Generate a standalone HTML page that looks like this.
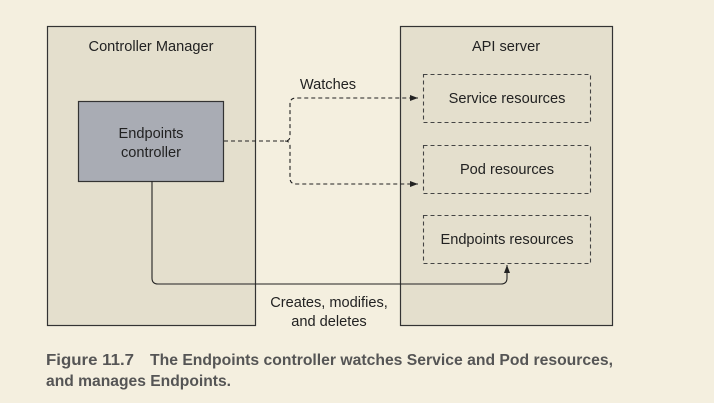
<!DOCTYPE html>
<html><head><style>
body{margin:0;background:#f4efdf;}
svg{display:block;}
text{font-family:"Liberation Sans",sans-serif;fill:#222;}
.cap{font-family:"Liberation Sans Narrow","Liberation Sans",sans-serif;font-weight:bold;fill:#555;font-size:16px;}
</style></head><body>
<svg width="714" height="403" viewBox="0 0 714 403">
<defs><marker id="a" markerWidth="8" markerHeight="6" refX="8" refY="3" orient="auto" markerUnits="userSpaceOnUse"><path d="M0,0L8,3L0,6z" fill="#222"/></marker></defs>
<rect x="47.5" y="26.5" width="208" height="299" fill="#e4dfcd" stroke="#333" stroke-width="1.2"/>
<rect x="400.5" y="26.5" width="212" height="299" fill="#e4dfcd" stroke="#333" stroke-width="1.2"/>
<text x="151" y="51" font-size="14.6" text-anchor="middle">Controller Manager</text>
<text x="506" y="51" font-size="14.6" text-anchor="middle">API server</text>
<rect x="78.5" y="101.5" width="145" height="80" fill="#a9acb4" stroke="#333" stroke-width="1.2"/>
<text x="151" y="138" font-size="14.6" text-anchor="middle">Endpoints</text>
<text x="151" y="157" font-size="14.6" text-anchor="middle">controller</text>
<g fill="none" stroke="#444" stroke-dasharray="4,3" stroke-width="1.1">
<rect x="423.5" y="74.5" width="167" height="48"/>
<rect x="423.5" y="145.5" width="167" height="48"/>
<rect x="423.5" y="215.5" width="167" height="48"/>
</g>
<text x="507" y="103" font-size="14.6" text-anchor="middle">Service resources</text>
<text x="507" y="174" font-size="14.6" text-anchor="middle">Pod resources</text>
<text x="507" y="244" font-size="14.6" text-anchor="middle">Endpoints resources</text>
<g fill="none" stroke="#222" stroke-width="1.1">
<path d="M224,141H285Q290,141 290,136V104Q290,98 296,98H418" stroke-dasharray="4,3" marker-end="url(#a)"/>
<path d="M285,141Q290,141 290,146V178Q290,184 296,184H418" stroke-dasharray="4,3" marker-end="url(#a)"/>
<path d="M152,181V278Q152,284 158,284H501Q507,284 507,278V265" marker-end="url(#a)"/>
</g>
<text x="328" y="89" font-size="14.6" text-anchor="middle">Watches</text>
<text x="329" y="307" font-size="14.6" text-anchor="middle">Creates, modifies,</text>
<text x="329" y="326" font-size="14.6" text-anchor="middle">and deletes</text>
<text class="cap" x="46" y="365" textLength="88" lengthAdjust="spacingAndGlyphs">Figure 11.7</text>
<text class="cap" x="150" y="365" textLength="463" lengthAdjust="spacingAndGlyphs">The Endpoints controller watches Service and Pod resources,</text>
<text class="cap" x="46" y="386" textLength="185" lengthAdjust="spacingAndGlyphs">and manages Endpoints.</text>
</svg>
</body></html>
